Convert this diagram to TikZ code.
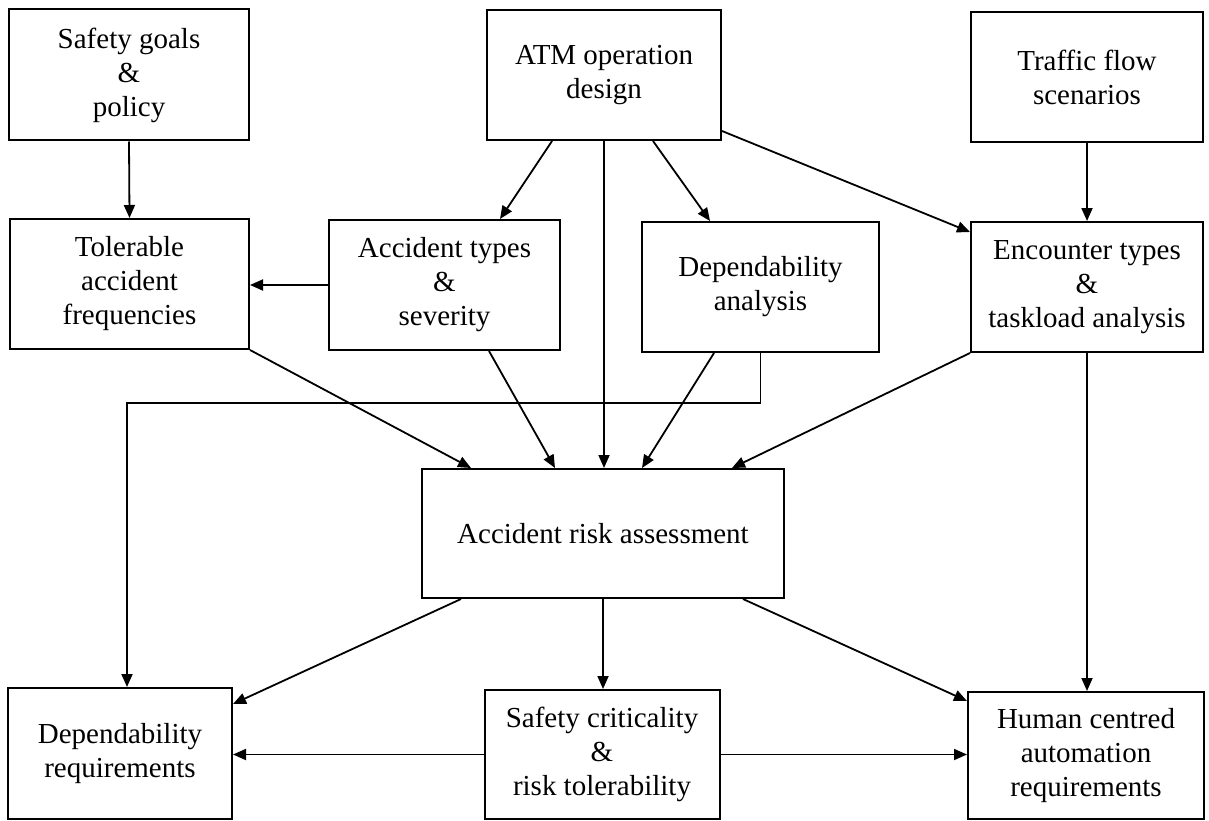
\documentclass[tikz,border=0pt]{standalone}
\usepackage{fontspec}
\setmainfont{Liberation Serif}
\usetikzlibrary{arrows.meta,calc}
\tikzset{
    box/.style={draw, line width=2pt, align=center, inner sep=0pt,
        font=\fontsize{29}{34}\selectfont},
    link/.style={line width=1.8pt, -{Triangle[length=13pt,width=11pt]}}
}
\begin{document}
\begin{tikzpicture}[x=1pt,y=-1pt]
    \useasboundingbox[fill=white] (0,0) rectangle (1209,821);

    % Draw nodes
    \node[box, minimum width=240, minimum height=131] (goals) at (129,75) {Safety goals\\\&\\policy};
    \node[box, minimum width=234, minimum height=130] (atm) at (604,75) {ATM operation\\design};
    \node[box, minimum width=232, minimum height=130] (traffic) at (1087,77) {Traffic flow\\scenarios};
    \node[box, minimum width=239, minimum height=130] (toler) at (129.5,284) {Tolerable\\accident\\frequencies};
    \node[box, minimum width=231, minimum height=130] (acctype) at (444.5,285) {Accident types\\\&\\severity};
    \node[box, minimum width=237, minimum height=130] (depana) at (760.5,287) {Dependability\\analysis};
    \node[box, minimum width=232, minimum height=130] (encount) at (1087,287) {Encounter types\\\&\\taskload analysis};
    \node[box, minimum width=362, minimum height=129] (ara) at (603,533.5) {Accident risk assessment};
    \node[box, minimum width=224, minimum height=131] (depreq) at (120,753.5) {Dependability\\requirements};
    \node[box, minimum width=235, minimum height=129] (safecrit) at (602,754.5) {Safety criticality\\\&\\risk tolerability};
    \node[box, minimum width=236, minimum height=127] (human) at (1086,755.5) {Human centred\\automation\\requirements};

    % Draw edges
    \draw[link] (goals.south) -- (toler.north);
    \draw[link] (acctype.west) -- (acctype.west -| toler.east);
    \draw[link] ($(atm.south)+(-52,0)$) -- ($(acctype.north)+(55.5,0)$);
    \draw[link] (atm.south) -- (atm.south |- ara.north);
    \draw[link] ($(atm.south)+(49,0)$) -- ($(depana.north)+(-50.5,0)$);
    \draw[link] ($(atm.south east)+(0,-10)$) -- ($(encount.north west)+(0,11)$);
    \draw[link] (traffic.south) -- (encount.north);
    \draw[link] (toler.south east) -- ($(ara.north)+(-132,0)$);
    \draw[link] ($(acctype.south)+(44.5,0)$) -- ($(ara.north)+(-48,0)$);
    \draw[link] ($(depana.south)+(-46.5,0)$) -- ($(ara.north)+(39,0)$);
    \draw[link] (encount.south west) -- ($(ara.north)+(129,0)$);
    \draw[link] (depana.south) -- ++(0,50) -| ($(depreq.north)+(7,0)$);
    \draw[link] ($(ara.south)+(-142,0)$) -- ($(depreq.north east)+(0,17)$);
    \draw[link] (ara.south) -- (ara.south |- safecrit.north);
    \draw[link] ($(ara.south)+(140,0)$) -- ($(human.north west)+(0,10)$);
    \draw[link] (encount.south) -- (encount.south |- human.north);
    \draw[link] (safecrit.west) -- (safecrit.west -| depreq.east);
    \draw[link] (safecrit.east) -- (safecrit.east -| human.west);
\end{tikzpicture}
\end{document}
